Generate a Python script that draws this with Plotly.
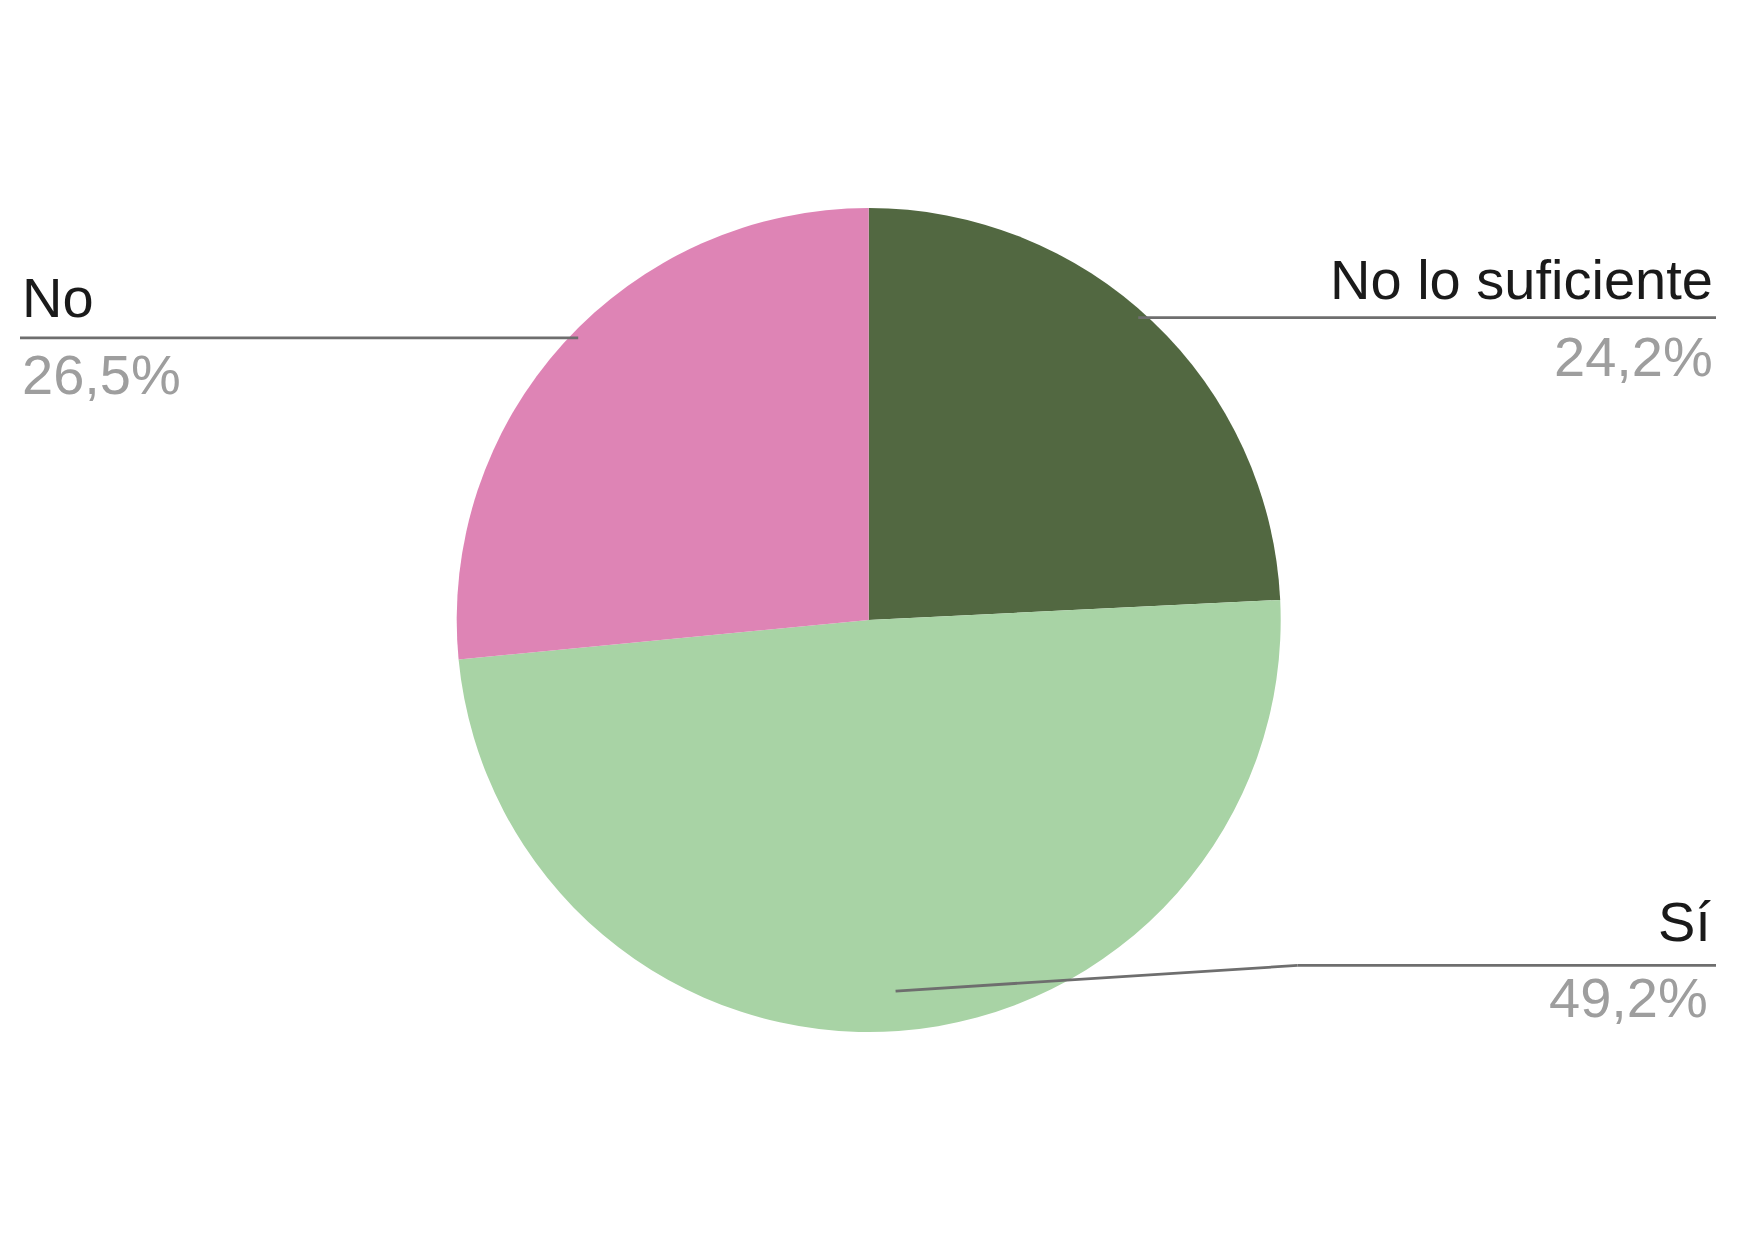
import math
import plotly.graph_objects as go

# ---- data ----
labels = ["No lo suficiente", "Sí", "No"]
values = [24.2, 49.2, 26.5]
colors = ["#526841", "#a8d3a5", "#de84b5"]
pct_text = ["24,2%", "49,2%", "26,5%"]

# page is offset by the default 8px body margin
OFF = 8
W, H = 1754 - 2 * OFF, 1241 - 2 * OFF
CX, CY, R = 868.7, 620.0, 412.0


def px(x):
    return (x - OFF) / W


def py(y):
    return 1 - (y - OFF) / H


fig = go.Figure(go.Pie(
    labels=labels, values=values, sort=False, direction="clockwise", rotation=0,
    marker=dict(colors=colors, line=dict(width=0)),
    textinfo="none", hoverinfo="label+percent", showlegend=False,
    domain=dict(x=[px(CX - R), px(CX + R)], y=[py(CY + R), py(CY - R)]),
))

# slice mid-angles (clockwise from 12 o'clock)
total = sum(values)
mids = []
acc = 0.0
for v in values:
    mids.append((acc + v / 2) / total * 2 * math.pi)
    acc += v

# label layout: (side, text x, label cap-centre y, pct cap-centre y, line y, line outer x)
layout_spec = {
    "No lo suficiente": ("right", 1714.5, 279.7, 356.8, 317.7, 1716),
    "Sí": ("right", 1712.5, 921.0, 997.7, 965.4, 1716),
    "No": ("left", 20.0, 298.0, 374.7, 337.8, 20),
}

FONT = "Liberation Sans, Arial"
annotations = []
shapes = []
LINE = dict(color="#6e6e6e", width=2.8)
for i, lab in enumerate(labels):
    side, tx, ly, pyy, liney, outer = layout_spec[lab]
    anchor = "right" if side == "right" else "left"
    annotations.append(dict(x=px(tx), y=py(ly), xref="paper", yref="paper", text=lab,
                            showarrow=False, xanchor=anchor, yanchor="middle",
                            font=dict(family=FONT, size=56, color="#1a1a1a")))
    annotations.append(dict(x=px(tx if lab != "Sí" else tx - 3), y=py(pyy), xref="paper", yref="paper",
                            text=pct_text[i], showarrow=False, xanchor=anchor, yanchor="middle",
                            font=dict(family=FONT, size=56, color="#9e9e9e")))
    th = mids[i]
    if lab == "Sí":
        r = 0.903 * R
        ex, ey = CX + r * math.sin(th), CY - r * math.cos(th)
        knee_x = 1297.6
        shapes.append(dict(type="line", xref="paper", yref="paper", x0=px(ex), y0=py(ey),
                           x1=px(knee_x), y1=py(liney), line=LINE))
        shapes.append(dict(type="line", xref="paper", yref="paper", x0=px(knee_x), y0=py(liney),
                           x1=px(outer), y1=py(liney), line=LINE))
    else:
        r = 0.983 * R
        dx = math.sqrt(max(r * r - (liney - CY) ** 2, 0))
        ex = CX + dx * (1 if math.sin(th) > 0 else -1)
        shapes.append(dict(type="line", xref="paper", yref="paper", x0=px(ex), y0=py(liney),
                           x1=px(outer), y1=py(liney), line=LINE))

fig.update_layout(
    width=W, height=H, margin=dict(l=0, r=0, t=0, b=0),
    paper_bgcolor="white", plot_bgcolor="white",
    annotations=annotations, shapes=shapes,
)

fig.write_html("out.html")
